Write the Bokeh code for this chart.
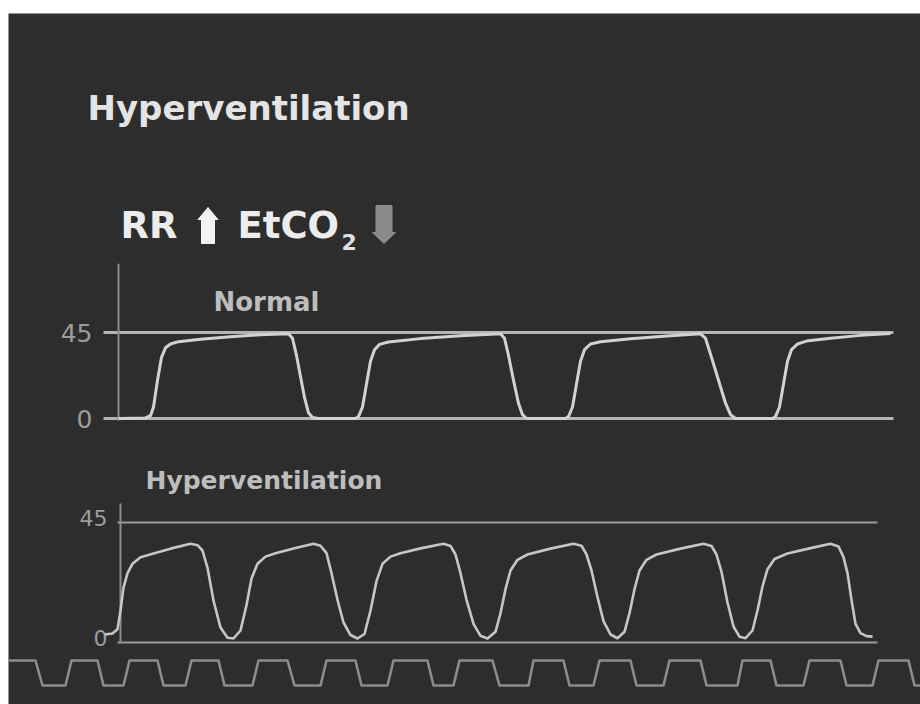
from bokeh.plotting import figure
from bokeh.models import Range1d, Label, Spacer
from bokeh.layouts import column, row
from bokeh.core.properties import value
from bokeh.embed import file_html
from bokeh.resources import INLINE

# ---------------- data ----------------
# time in seconds, EtCO2 in mmHg
y_ticks = [0, 45]
y_tick_labels = ["0", "45"]
panel_titles = ["Normal", "Hyperventilation"]
header_title = "Hyperventilation"

normal_t = [0.00, 0.54, 0.64, 0.70, 0.78, 0.86, 0.94, 1.04, 1.20, 1.64, 2.24, 2.84, 3.40, 3.48, 3.56, 3.64, 3.72, 3.80, 3.88, 4.00,
            4.74, 4.80, 4.88, 4.96, 5.04, 5.12, 5.22, 5.40, 6.04, 6.84, 7.64, 7.72, 7.80, 7.90, 8.00, 8.08, 8.16,
            8.94, 9.00, 9.08, 9.16, 9.24, 9.32, 9.44, 9.64, 10.24, 11.04, 11.64, 11.74, 11.86, 12.00, 12.14, 12.24, 12.34,
            13.08, 13.14, 13.22, 13.30, 13.38, 13.46, 13.58, 13.76, 14.24, 14.84, 15.44]
normal_co2 = [0, 0.3, 1.5, 6, 20, 32, 37, 39, 40.2, 41.5, 42.8, 43.8, 44.3, 42, 33, 22, 11, 3, 0.5, 0,
              0, 1, 6, 18, 30, 36, 38.8, 40, 41.8, 43.3, 44.3, 42, 33, 20, 8, 2, 0,
              0, 1, 6, 18, 30, 36, 39, 40.2, 41.7, 43.3, 44.3, 42, 32, 20, 8, 2, 0,
              0, 1, 6, 18, 30, 36, 39, 40.5, 42, 43.5, 44.5]

hyper_t = [-0.28, -0.12, -0.02, 0.04, 0.10, 0.18, 0.28, 0.44, 0.70, 1.04, 1.44, 1.58, 1.68, 1.78, 1.90, 2.04, 2.18, 2.30,
           2.44, 2.56, 2.66, 2.78, 2.94, 3.14, 3.54, 3.90, 4.04, 4.16, 4.26, 4.38, 4.50, 4.64, 4.78,
           4.92, 5.04, 5.16, 5.28, 5.44, 5.64, 6.04, 6.50, 6.64, 6.74, 6.84, 6.96, 7.10, 7.24, 7.38,
           7.54, 7.64, 7.74, 7.84, 7.98, 8.18, 8.64, 9.10, 9.26, 9.36, 9.46, 9.58, 9.70, 9.84, 9.98,
           10.12, 10.22, 10.32, 10.42, 10.56, 10.76, 11.24, 11.70, 11.86, 11.96, 12.06, 12.18, 12.30, 12.42, 12.54,
           12.68, 12.78, 12.88, 12.98, 13.12, 13.38, 13.82, 14.24, 14.40, 14.50, 14.58, 14.66, 14.74, 14.84, 14.96, 15.08]
hyper_co2 = [3, 3.4, 5, 12, 20.6, 26, 29.5, 32, 33.4, 35.2, 37, 36.5, 34.5, 28, 15.7, 5.6, 1.8, 1.5,
             4.5, 14, 24, 29.5, 32.2, 33.5, 35.4, 37, 36.3, 33.5, 26, 16, 7.5, 2.8, 1.5,
             3.2, 12, 23, 29.5, 32.2, 33.5, 35.3, 37, 36.2, 33, 26, 16, 7, 2.5, 1.5,
             4, 11, 20, 27, 31, 33, 35.2, 37, 36.3, 33, 27, 17, 8, 3, 1.6,
             4, 11, 20, 27, 31, 33, 35.2, 37, 36.2, 33, 26.5, 15, 6, 2.2, 1.6,
             4.5, 12, 21, 27.5, 31.3, 33.4, 35.3, 37, 36, 32, 26, 16, 7, 3.5, 2.4, 2.2]

# ventilation (square) trace, level 1 = high, 0 = low
vent_t = [-2.20, -1.66, -1.52, -1.06, -0.94, -0.42, -0.30, 0.10, 0.22, 0.78, 0.90, 1.34, 1.46,
          2.00, 2.12, 2.68, 2.80, 3.38, 3.52, 4.04, 4.16, 4.74, 4.86, 5.38, 5.50, 6.18, 6.30, 6.70, 6.82,
          7.48, 7.62, 8.20, 8.30, 8.90, 9.02, 9.50, 9.62, 10.24, 10.36, 10.90, 11.02, 11.64, 11.76, 12.38, 12.48,
          13.04, 13.16, 13.70, 13.82, 14.44, 14.56, 15.08, 15.20, 15.80, 15.92, 16.04]
vent_level = [1, 1, 0, 0, 1, 1, 0, 0, 1, 1, 0, 0, 1,
              1, 0, 0, 1, 1, 0, 0, 1, 1, 0, 0, 1, 1, 0, 0, 1,
              1, 0, 0, 1, 1, 0, 0, 1, 1, 0, 0, 1, 1, 0, 0, 1,
              1, 0, 0, 1, 1, 0, 0, 1, 1, 0, 0]

# ---------------- layout constants (seconds / mmHg) ----------------
BG = "#2d2d2d"
FONT = "DejaVu Sans"
N_LINE = (-0.30, 15.50)     # extent of the 0/45 reference lines, normal panel
N_AXIS = (-1.0, 81.0)       # vertical axis extent, normal panel
H_LINE = (-0.02, 15.18)
H_AXIS = (0.0, 52.1)
H_AXIS_T = 0.04

p = figure(width=912, height=691, x_range=Range1d(-2.2, 16.04), y_range=Range1d(704, 13),
           x_axis_location=None, y_axis_location=None, toolbar_location=None,
           output_backend="svg", min_border=0, background_fill_color=BG,
           border_fill_color=BG, outline_line_color=None)
p.grid.visible = False
p.extra_x_ranges = {"page": Range1d(8, 920)}
p.extra_y_ranges = {
    "normal": Range1d(-149.65, 211.92),
    "hyper": Range1d(-23.25, 235.875),
    "vent": Range1d(-0.76, 26.88),
}

# ---------------- header ----------------
p.add_layout(Label(x=87, y=107, x_range_name="page", text=header_title, text_font=FONT,
                   text_font_style="bold", text_font_size="34px", text_color="#e4e4e4",
                   text_baseline="alphabetic"))
p.add_layout(Label(x=120, y=225, x_range_name="page", text="RR", text_font=FONT,
                   text_font_style="bold", text_font_size="37px", text_color="#ececec",
                   text_baseline="alphabetic"))
p.add_layout(Label(x=237, y=225, x_range_name="page", text="EtCO", text_font=FONT,
                   text_font_style="bold", text_font_size="37px", text_color="#ececec",
                   text_baseline="alphabetic"))
p.add_layout(Label(x=341, y=241, x_range_name="page", text="2", text_font=FONT,
                   text_font_style="bold", text_font_size="22px", text_color="#e0e0e0",
                   text_baseline="alphabetic"))


def arrow_poly(cx, y_tail, y_tip, shaft_w, head_w, head_len):
    d = 1 if y_tip > y_tail else -1
    y_base = y_tip - d * head_len
    xs = [cx - shaft_w / 2, cx + shaft_w / 2, cx + shaft_w / 2, cx + head_w / 2, cx,
          cx - head_w / 2, cx - shaft_w / 2]
    ys = [y_tail, y_tail, y_base, y_base, y_tip, y_base, y_base]
    return xs, ys


ux, uy = arrow_poly(207.5, 243, 207, 13, 20, 12)
dx, dy = arrow_poly(383.5, 205, 243, 16, 23, 11)
p.patches(xs=[ux, dx], ys=[uy, dy], x_range_name="page",
          fill_color=["#f2f2f2", "#8a8a8a"], line_color=["#f2f2f2", "#8a8a8a"], line_width=1)

# ---------------- panel 1 : normal ----------------
p.segment(x0=N_LINE[0], x1=N_LINE[1], y0=y_ticks, y1=y_ticks, y_range_name="normal",
          line_color="#b4b4b4", line_width=3)
p.segment(x0=0, x1=0, y0=N_AXIS[0], y1=N_AXIS[1], y_range_name="normal",
          line_color="#8c8c8c", line_width=2)
p.text(x=-0.52, y=y_ticks, text=y_tick_labels, y_range_name="normal",
       text_font=value(FONT), text_font_size="25px", text_color="#9c9c9c",
       text_align="right", text_baseline="middle")
p.line(normal_t, normal_co2, y_range_name="normal", line_color="#d2d2d2", line_width=3,
       line_join="round")
p.add_layout(Label(x=1.9, y=60.7, y_range_name="normal", text=panel_titles[0], text_font=FONT,
                   text_font_style="bold", text_font_size="26px", text_color="#bdbdbd",
                   text_baseline="alphabetic"))

# ---------------- panel 2 : hyperventilation ----------------
p.segment(x0=H_LINE[0], x1=H_LINE[1], y0=y_ticks, y1=y_ticks, y_range_name="hyper",
          line_color="#9a9a9a", line_width=2)
p.segment(x0=H_AXIS_T, x1=H_AXIS_T, y0=H_AXIS[0], y1=H_AXIS[1], y_range_name="hyper",
          line_color="#8c8c8c", line_width=2)
p.text(x=-0.22, y=y_ticks, text=y_tick_labels, y_range_name="hyper",
       text_font=value(FONT), text_font_size="22px", text_color="#9c9c9c",
       text_align="right", text_baseline="middle", y_offset=-5)
p.line(hyper_t, hyper_co2, y_range_name="hyper", line_color="#c6c6c6", line_width=2.6,
       line_join="round")
p.add_layout(Label(x=0.54, y=60.75, y_range_name="hyper", text=panel_titles[1], text_font=FONT,
                   text_font_style="bold", text_font_size="25px", text_color="#bdbdbd",
                   text_baseline="alphabetic"))

# ---------------- ventilation trace ----------------
p.line(vent_t, vent_level, y_range_name="vent", line_color="#8c8c8c", line_width=2.6,
       line_join="round")

layout = row(Spacer(width=8, height=704), column(Spacer(width=912, height=13), p))

open("out.html", "w").write(file_html(layout, INLINE))
